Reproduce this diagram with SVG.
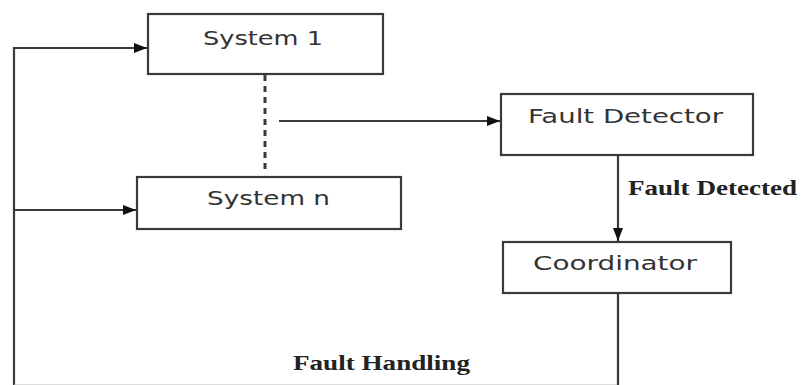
<svg xmlns="http://www.w3.org/2000/svg" width="802" height="385" viewBox="0 0 802 385">
<style>
.box{fill:#fff;stroke:#3a3a3a;stroke-width:2.2}
.ln{fill:none;stroke:#3a3a3a;stroke-width:2.2}
.lbl{font-family:"DejaVu Sans",Verdana,sans-serif;font-size:20px;fill:#333}
.ser{font-family:"Liberation Serif","Times New Roman",serif;font-size:21px;font-weight:bold;fill:#222}
</style>
<defs>
<marker id="ah" viewBox="0 0 13 10" refX="13" refY="5" markerWidth="13" markerHeight="10" markerUnits="userSpaceOnUse" orient="auto">
<path d="M0,0 L13,5 L0,10 Z" fill="#111"/>
</marker>
</defs>
<rect width="802" height="385" fill="#fff"/>
<g id="connectors">
<path class="ln" d="M14,386 V48 H147" marker-end="url(#ah)"/>
<path class="ln" d="M14,210 H136" marker-end="url(#ah)"/>
<path class="ln" d="M265,75 V172" stroke-dasharray="6,5" style="stroke-width:3"/>
<path class="ln" d="M279,121 H500" marker-end="url(#ah)"/>
<path class="ln" d="M618,155 V241" marker-end="url(#ah)"/>
<path class="ln" d="M618,293 V385.5 H14" style="stroke:#bbb"/>
<path class="ln" d="M618,293 V386"/>
<text class="ser" x="628" y="195" textLength="169" lengthAdjust="spacingAndGlyphs">Fault Detected</text>
<text class="ser" x="293" y="370" textLength="177" lengthAdjust="spacingAndGlyphs">Fault Handling</text>
</g>
<g id="system1">
<rect class="box" x="148" y="14" width="235" height="60"/>
<text class="lbl" x="203" y="45" textLength="120" lengthAdjust="spacingAndGlyphs">System 1</text>
</g>
<g id="systemn">
<rect class="box" x="137" y="177" width="264" height="52"/>
<text class="lbl" x="207" y="205" textLength="123" lengthAdjust="spacingAndGlyphs">System n</text>
</g>
<g id="faultdetector">
<rect class="box" x="501" y="94" width="252" height="61"/>
<text class="lbl" x="528" y="123" textLength="195" lengthAdjust="spacingAndGlyphs">Fault Detector</text>
</g>
<g id="coordinator">
<rect class="box" x="503" y="242" width="228" height="51"/>
<text class="lbl" x="533" y="270" textLength="164" lengthAdjust="spacingAndGlyphs">Coordinator</text>
</g>
</svg>
